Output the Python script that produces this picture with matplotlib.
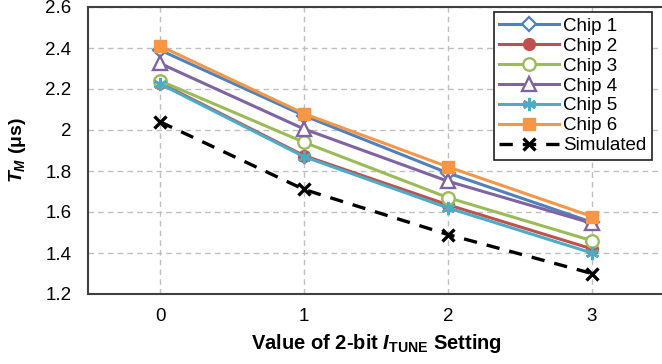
import matplotlib
matplotlib.use("Agg")
import matplotlib.pyplot as plt

plt.rcParams['font.family'] = ['Liberation Sans', 'DejaVu Sans']
plt.rcParams['mathtext.fontset'] = 'custom'
plt.rcParams['mathtext.it'] = 'Liberation Sans:italic:bold'
plt.rcParams['mathtext.rm'] = 'Liberation Sans:bold'
plt.rcParams['mathtext.bf'] = 'Liberation Sans:bold'

settings = [0, 1, 2, 3]
chip1 = [2.39, 2.07, 1.79, 1.55]
chip2 = [2.23, 1.875, 1.635, 1.42]
chip3 = [2.24, 1.94, 1.67, 1.46]
chip4 = [2.325, 2.005, 1.75, 1.545]
chip5 = [2.225, 1.87, 1.62, 1.40]
chip6 = [2.41, 2.08, 1.82, 1.578]
simulated = [2.04, 1.71, 1.49, 1.30]
y_ticks = [1.2, 1.4, 1.6, 1.8, 2.0, 2.2, 2.4, 2.6]
y_tick_labels = ["1.2", "1.4", "1.6", "1.8", "2", "2.2", "2.4", "2.6"]

fig = plt.figure(figsize=(6.62, 3.64), dpi=100)
ax = fig.add_axes([88/662, 1 - 294/364, 576/662, 287/364])

lw = 2.2
ms = 8.5
ax.plot(settings, chip1, color='#4F81BD', lw=lw, marker='D', ms=ms-1.5, mfc='white', mec='#4F81BD', mew=1.6, label='Chip 1')
ax.plot(settings, chip2, color='#C0504D', lw=lw, marker='o', ms=ms, mfc='#C0504D', mec='#C0504D', label='Chip 2')
ax.plot(settings, chip3, color='#9BBB59', lw=lw, marker='o', ms=ms+0.5, mfc='white', mec='#9BBB59', mew=1.7, label='Chip 3')
ax.plot(settings, chip4, color='#8064A2', lw=lw, marker='^', ms=ms+1, mfc='white', mec='#8064A2', mew=1.7, label='Chip 4')
ax.plot(settings, chip5, color='#4BACC6', lw=lw, marker=(6, 2, 0), ms=ms+1, mec='#4BACC6', mew=1.9, label='Chip 5')
ax.plot(settings, chip6, color='#F79646', lw=lw, marker='s', ms=ms+0.5, mfc='#F79646', mec='#F79646', label='Chip 6')
ax.plot(settings, simulated, color='black', lw=2.4, ls=(0, (4, 3)), marker='x', ms=ms+0.5, mew=2.4, label='Simulated')

ax.set_xlim(-0.5, 3.5)
ax.set_ylim(1.2, 2.6)
ax.set_xticks(settings)
ax.set_xticklabels([str(s) for s in settings])
ax.set_yticks(y_ticks)
ax.set_yticklabels(y_tick_labels)
ax.tick_params(axis='both', length=0, labelsize=13.5, colors='black')
ax.tick_params(axis='y', pad=12)
ax.tick_params(axis='x', pad=10)

ax.grid(True, color='#BFBFBF', ls=(0, (4, 3)), lw=1.0)
ax.set_axisbelow(True)

for s in ['left', 'bottom', 'top']:
    ax.spines[s].set_color('#404040')
    ax.spines[s].set_linewidth(1.5)
ax.spines['right'].set_visible(False)

ax.set_ylabel(r"$T_M$ (μs)", fontsize=14, fontweight='bold', labelpad=12)
ax.set_xlabel(r"Value of 2-bit $I_{\mathrm{TUNE}}$ Setting", fontsize=14.5, fontweight='bold', labelpad=5)

leg = ax.legend(loc='upper right', bbox_to_anchor=(652/662, 1 - 12/364), bbox_transform=fig.transFigure,
                fontsize=13.5, frameon=True, fancybox=False, edgecolor='#202020', framealpha=1,
                handlelength=3.2, handletextpad=0.2, labelspacing=0.15, borderpad=0.3, borderaxespad=0)
leg.get_frame().set_linewidth(1.2)

fig.savefig("out.png", dpi=100)
